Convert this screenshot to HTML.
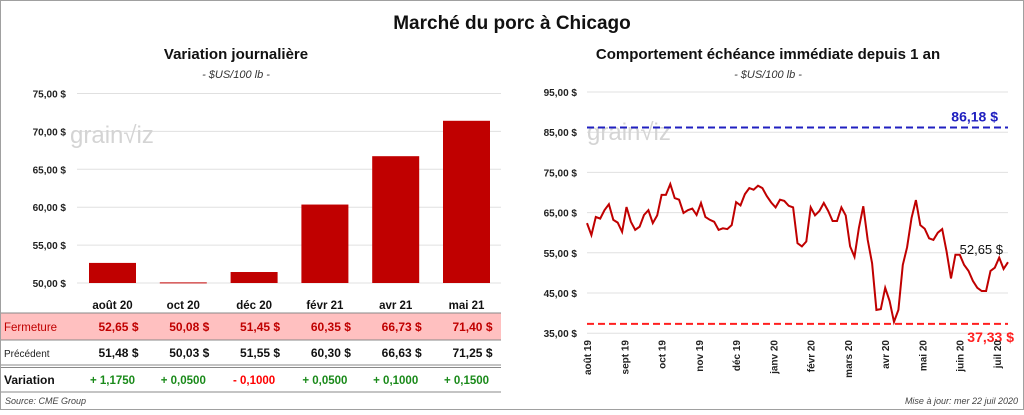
<!DOCTYPE html>
<html><head><meta charset="utf-8"><style>
body{margin:0;width:1024px;height:410px;overflow:hidden;background:#fff;font-family:"Liberation Sans",sans-serif}
svg text{font-family:"Liberation Sans",sans-serif}
</style></head><body>
<svg id="c" width="1024" height="410">
<rect x="0.5" y="0.5" width="1023" height="409" fill="#fff" stroke="#a0a0a0"/>
<text x="512" y="29" text-anchor="middle" font-size="19" font-weight="bold" fill="#111">Marché du porc à Chicago</text>
<text x="236" y="59" text-anchor="middle" font-size="15" font-weight="bold" fill="#111">Variation journalière</text>
<text x="236" y="78" text-anchor="middle" font-size="11" font-style="italic" fill="#333">- $US/100 lb -</text>
<text x="768" y="59" text-anchor="middle" font-size="15" font-weight="bold" fill="#111">Comportement échéance immédiate depuis 1 an</text>
<text x="768" y="78" text-anchor="middle" font-size="11" font-style="italic" fill="#333">- $US/100 lb -</text>
<g id="left"></g>
<g id="right"></g>
<g id="table"></g>
<text x="5" y="404" font-size="9" font-style="italic" fill="#444">Source: CME Group</text>
<text x="1018" y="404" text-anchor="end" font-size="9" font-style="italic" fill="#444">Mise à jour: mer 22 juil 2020</text>
</svg>
<script>
const barCats=["août 20","oct 20","déc 20","févr 21","avr 21","mai 21"];
const closeVals=[52.65,50.08,51.45,60.35,66.73,71.40];
const prevVals=[51.48,50.03,51.55,60.30,66.63,71.25];
const varLabels=["+ 1,1750","+ 0,0500","- 0,1000","+ 0,0500","+ 0,1000","+ 0,1500"];
const leftTicks=[50,55,60,65,70,75];
const lineVals=[62.4,59.4,63.9,63.5,65.6,67.1,63.2,62.5,60.2,66.4,62.7,60.7,61.5,64.4,65.6,62.4,64.3,69.4,69.4,72.1,68.6,68.2,64.9,65.6,66.0,64.4,67.4,63.9,63.2,62.7,60.7,61.1,60.9,61.9,67.6,66.8,69.6,71.1,70.7,71.7,71.1,69.1,67.5,66.3,68.2,67.9,66.7,66.3,57.4,56.6,57.8,66.3,64.3,65.4,67.4,65.4,62.9,62.9,66.3,64.3,56.6,54.0,61.2,66.6,58.2,52.4,40.8,41.0,46.3,43.0,37.8,40.8,52.0,56.4,63.6,68.1,61.9,61.0,58.6,58.2,60.0,60.9,55.3,48.6,54.5,54.5,52.0,50.5,48.0,46.3,45.5,45.5,50.5,51.3,53.8,51.0,52.65];
const rightTicks=[35,45,55,65,75,85,95];
const monthLabels=["août 19","sept 19","oct 19","nov 19","déc 19","janv 20","févr 20","mars 20","avr 20","mai 20","juin 20","juil 20"];
const maxVal=86.18, minVal=37.33;
const NS="http://www.w3.org/2000/svg";
function mk(p,t,a,txt){const e=document.createElementNS(NS,t);for(const k in a)e.setAttribute(k,a[k]);if(txt!==undefined)e.textContent=txt;p.appendChild(e);return e;}
const fmt=v=>v.toFixed(2).replace('.',',');
// left chart
const L=document.getElementById('left');
const ly=v=>283-(v-50)*7.58;
const lx=i=>112.5+i*70.8;
leftTicks.forEach(t=>{
 const g=mk(L,'line',{x1:77,x2:501,y1:ly(t),y2:ly(t),stroke:'#e0e0e0'});
 
 const tx=mk(L,'text',{x:66,y:ly(t)+4,'text-anchor':'end','font-size':10,'font-weight':'bold',fill:'#222'},fmt(t)+' $');
 
});
mk(L,'text',{x:70,y:143,'font-size':24,fill:'#d4d4d4'},'grain√iz');
closeVals.forEach((v,i)=>{
 const r=mk(L,'rect',{x:lx(i)-23.5,y:ly(v),width:47,height:Math.max(283-ly(v),1),fill:'#c00000'});
 
});
// right chart
const R=document.getElementById('right');
const ry=v=>92+(95-v)*4.02;
const x0=587,x1=1008;
const rx=i=>x0+i*(x1-x0)/(lineVals.length-1);
rightTicks.forEach(t=>{
 const g=mk(R,'line',{x1:x0,x2:x1,y1:ry(t),y2:ry(t),stroke:'#e0e0e0'});
 
 const tx=mk(R,'text',{x:577,y:ry(t)+4,'text-anchor':'end','font-size':10,'font-weight':'bold',fill:'#222'},fmt(t)+' $');
 
});
mk(R,'text',{x:587,y:140,'font-size':24,fill:'#d4d4d4'},'grain√iz');
mk(R,'line',{x1:x0,x2:x1,y1:ry(maxVal),y2:ry(maxVal),stroke:'#2020c0','stroke-width':2,'stroke-dasharray':'7,4'});
mk(R,'line',{x1:x0,x2:x1,y1:ry(minVal),y2:ry(minVal),stroke:'#ff2020','stroke-width':2,'stroke-dasharray':'7,4'});
const mt=mk(R,'text',{x:998,y:ry(maxVal)-6,'text-anchor':'end','font-size':14,'font-weight':'bold',fill:'#2020c0'},fmt(maxVal)+' $');

const nt=mk(R,'text',{x:1014,y:ry(minVal)+18,'text-anchor':'end','font-size':14,'font-weight':'bold',fill:'#ff2020'},fmt(minVal)+' $');

const pts=lineVals.map((v,i)=>rx(i).toFixed(1)+','+ry(v).toFixed(1)).join(' ');
const pl=mk(R,'polyline',{points:pts,fill:'none',stroke:'#c00000','stroke-width':2});

const last=lineVals[lineVals.length-1];
const lt=mk(R,'text',{x:1003,y:ry(last)-8,'text-anchor':'end','font-size':13,fill:'#111'},fmt(last)+' $');

monthLabels.forEach((m,i)=>{
 const x=x0+i*(x1-x0)/11.3;
 const t=mk(R,'text',{x:x+4,y:340,'text-anchor':'end','font-size':10,'font-weight':'bold',fill:'#222',transform:`rotate(-90 ${x+4} 340)`},m);
 
});
// table
const T=document.getElementById('table');
mk(T,'rect',{x:1,y:313,width:500,height:27,fill:'#ffc0c0'});
mk(T,'line',{x1:1,x2:501,y1:313,y2:313,stroke:'#888'});
mk(T,'line',{x1:1,x2:501,y1:340,y2:340,stroke:'#888'});
mk(T,'line',{x1:1,x2:501,y1:365,y2:365,stroke:'#888','stroke-width':1});
mk(T,'line',{x1:1,x2:501,y1:367.5,y2:367.5,stroke:'#888','stroke-width':1});
mk(T,'line',{x1:1,x2:501,y1:392,y2:392,stroke:'#888'});
mk(T,'text',{x:4,y:331,'font-size':11.5,fill:'#c00000'},'Fermeture');
mk(T,'text',{x:4,y:357,'font-size':10,fill:'#222'},'Précédent');
mk(T,'text',{x:4,y:384,'font-size':12,'font-weight':'bold',fill:'#111'},'Variation');
barCats.forEach((c,i)=>{
 const x=lx(i);
 const h=mk(T,'text',{x:x,y:309,'text-anchor':'middle','font-size':11.5,'font-weight':'bold',fill:'#111'},c);
 
 const a=mk(T,'text',{x:x+26,y:331,'text-anchor':'end','font-size':12,'font-weight':'bold',fill:'#c00000'},fmt(closeVals[i])+'  $');
 a.setAttribute('xml:space','preserve');
 const b=mk(T,'text',{x:x+26,y:357,'text-anchor':'end','font-size':12,'font-weight':'bold',fill:'#111'},fmt(prevVals[i])+'  $');
 
 const neg=varLabels[i].trim().startsWith('-');
 const d=mk(T,'text',{x:x,y:384,'text-anchor':'middle','font-size':11.5,'font-weight':'bold',fill:neg?'#ff0000':'#1a8a1a'},varLabels[i]);
 
});
</script>
</body></html>
